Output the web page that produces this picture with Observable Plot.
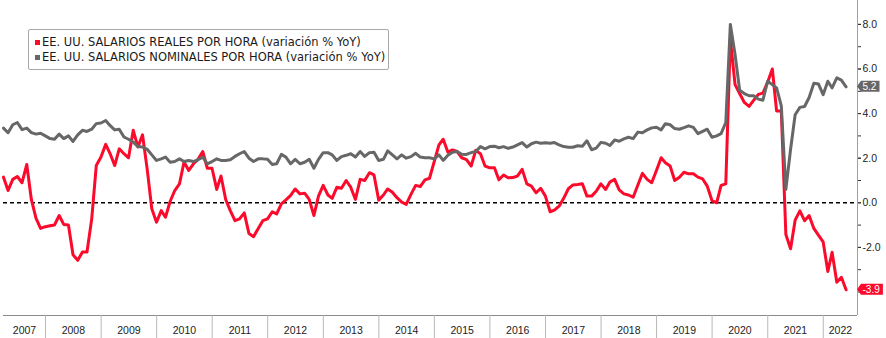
<!DOCTYPE html>
<html>
<head>
<meta charset="utf-8">
<script src="https://cdn.jsdelivr.net/npm/d3@7"></script>
<script src="https://cdn.jsdelivr.net/npm/@observablehq/plot@0.6"></script>
<style>
  body { margin: 0; background: #fff; }
  #chart { position: relative; width: 886px; height: 338px; }
  #legend { position: absolute; left: 28px; top: 29px; width: 361px; height: 41px; box-sizing: border-box;
            border: 1px solid #a9a9a9; border-radius: 2px; background: #fff;
            font-family: "DejaVu Sans", sans-serif; font-size: 11.5px; color: #1a1a1a; }
  .row { position: absolute; left: 0; height: 14px; line-height: 14px; white-space: nowrap; }
  .sw { position: absolute; left: 6px; top: 5px; width: 5px; height: 5px; }
  .lab { position: absolute; left: 13px; top: 0; }
</style>
</head>
<body>
<div id="chart">
  <div id="legend"></div>
</div>
<script>
// ---- data -------------------------------------------------------------
const startYear = 2007, startMonth = 3;   // first observation: March 2007 (monthly, month-end)

const seriesNames = [
  "EE. UU. SALARIOS REALES POR HORA (variación % YoY)",
  "EE. UU. SALARIOS NOMINALES POR HORA (variación % YoY)"
];
const seriesColors = ["#fb0a2b", "#676767"];

// Real hourly earnings, YoY %
const realWages = [
  1.15, 0.55, 1.05, 1.18, 0.9, 1.72, 0.15, -0.7, -1.15, -1.07,                 // 2007 Mar-Dec
  -1.03, -1.0, -0.57, -0.97, -1.0, -2.33, -2.58, -2.21, -2.21, -0.72, 1.67, 2.05, // 2008
  2.62, 2.22, 1.67, 2.42, 2.2, 2.02, 3.25, 2.5, 3.05, 1.5, -0.27, -0.87,        // 2009
  -0.35, -0.65, 0.07, 0.55, 0.85, 1.83, 1.45, 1.75, 1.95, 2.3, 1.55, 1.55,      // 2010
  0.6, 1.2, 0.15, -0.35, -0.8, -0.72, -0.45, -1.38, -1.52, -1.15, -0.8, -0.72,  // 2011
  -0.4, -0.5, -0.05, 0.13, 0.33, 0.62, 0.4, 0.43, 0.15, -0.57, 0.3, 0.78,       // 2012
  0.35, 0.2, 0.7, 0.65, 1.0, 0.7, 0.15, 1.05, 1.0, 1.35, 1.25, 0.12,            // 2013
  0.35, 0.62, 0.47, 0.23, 0.03, -0.07, 0.38, 0.78, 0.73, 1.03, 1.1, 1.85,       // 2014
  2.6, 2.85, 2.27, 2.37, 2.3, 2.02, 1.94, 1.65, 2.35, 2.2, 1.65, 1.57,          // 2015
  1.57, 1.03, 1.25, 1.12, 1.13, 1.2, 1.5, 0.85, 0.75, 0.45, 0.65, 0.3,          // 2016
  -0.4, -0.33, -0.15, 0.2, 0.63, 0.8, 0.82, 0.85, 0.3, 0.3, 0.52, 0.85,         // 2017
  0.6, 0.93, 1.05, 0.58, 0.4, 0.35, 0.25, 0.8, 1.32, 1.05, 0.9, 1.45,           // 2018
  2.02, 1.8, 1.65, 1.0, 1.15, 1.37, 1.3, 1.3, 1.15, 1.07, 0.75, 0.1,            // 2019
  0.0, 0.78, 0.85, 7.35, 5.3, 4.9, 4.5, 4.32, 4.59, 4.86, 4.92, 5.41,           // 2020
  6.0, 4.12, 4.12, -1.42, -2.06, -0.78, -0.36, -0.8, -0.57, -1.15, -1.45, -1.75, // 2021
  -3.08, -2.22, -3.56, -3.34, -3.9                                              // 2022 Jan-May
];

// Nominal hourly earnings, YoY %
const nominalWages = [
  3.35, 3.14, 3.5, 3.6, 3.28, 3.35, 3.15, 3.08, 3.12, 3.0,                      // 2007 Mar-Dec
  2.88, 2.85, 3.08, 2.88, 3.0, 2.75, 3.05, 3.25, 3.2, 3.3, 3.55, 3.58,          // 2008
  3.69, 3.47, 3.27, 3.3, 2.95, 2.85, 2.72, 2.52, 2.5, 2.4, 2.15, 1.9,           // 2009
  1.97, 2.05, 1.82, 1.85, 1.97, 1.85, 1.9, 1.85, 1.93, 2.05, 1.75, 1.85,        // 2010
  1.97, 1.9, 1.9, 1.93, 2.08, 2.2, 2.3, 2.0, 1.85, 1.97, 1.97, 1.95,            // 2011
  1.72, 1.75, 2.17, 2.05, 1.75, 1.95, 1.75, 1.82, 1.95, 1.55, 1.95, 2.25,       // 2012
  2.25, 2.15, 1.9, 2.07, 2.13, 2.2, 2.05, 2.3, 2.08, 2.25, 2.27, 1.9,           // 2013
  1.95, 2.33, 2.15, 1.97, 2.15, 2.0, 2.07, 2.22, 2.05, 2.02, 2.02, 1.97,        // 2014
  2.15, 1.9, 2.13, 2.27, 2.3, 2.18, 2.17, 2.25, 2.3, 2.52, 2.42, 2.52,          // 2015
  2.54, 2.47, 2.52, 2.44, 2.5, 2.6, 2.7, 2.5, 2.65, 2.72, 2.67, 2.69,           // 2016
  2.67, 2.7, 2.6, 2.52, 2.49, 2.49, 2.56, 2.54, 2.78, 2.38, 2.45, 2.71,         // 2017
  2.67, 2.57, 2.82, 2.76, 2.87, 2.94, 2.88, 3.17, 3.14, 3.27, 3.36, 3.39,       // 2018
  3.27, 3.55, 3.5, 3.33, 3.3, 3.37, 3.45, 3.38, 3.1, 3.2, 3.3, 2.94,            // 2019
  3.0, 3.1, 3.6, 8.0, 6.65, 5.05, 4.9, 4.8, 4.8, 4.65, 4.6, 5.45,               // 2020
  5.3, 5.15, 4.35, 0.6, 2.4, 3.95, 4.28, 4.32, 4.72, 5.36, 5.33, 4.85,          // 2021
  5.45, 5.15, 5.6, 5.5, 5.2                                                     // 2022 Jan-May
];

const years = d3.range(2007, 2023);                 // x-axis year labels
const yTickValues = d3.range(-4, 9);                // minor ticks every unit
const yLabelValues = [-2, 0, 2, 4, 6, 8];           // labelled ticks

// ---- build --------------------------------------------------------------
const monthEnd = (i) => new Date(Date.UTC(startYear, startMonth - 1 + i + 1, 0));
const real = realWages.map((v, i) => ({date: monthEnd(i), value: v}));
const nominal = nominalWages.map((v, i) => ({date: monthEnd(i), value: v}));

const xDomain = [new Date(Date.UTC(2007, 2, 31)), new Date(Date.UTC(2022, 7, 14))];
const yDomain = [-5.054, 9.072];

const yearStarts = years.slice(1).map(y => new Date(Date.UTC(y, 0, 1)));
const yearMid = (y) => {
  const a = Math.max(+new Date(Date.UTC(y, 0, 1)), +xDomain[0]);
  const b = Math.min(+new Date(Date.UTC(y + 1, 0, 1)), +xDomain[1]);
  return new Date((a + b) / 2);
};

const endTags = [
  {value: nominalWages[nominalWages.length - 1], color: seriesColors[1]},
  {value: realWages[realWages.length - 1], color: seriesColors[0]}
];

function tagMark(index, scales, values, dim) {
  const g = d3.create("svg:g").attr("text-anchor", "start");
  const x0 = dim.width - dim.marginRight;
  for (const t of endTags) {
    const label = t.value.toFixed(1);
    const y = scales.y(t.value);
    const textW = label.replace(/[^0-9]/g, "").length * 5.6 + (label.includes(".") ? 2.8 : 0) + (label.startsWith("-") ? 3.4 : 0);
    const h = 11, p = 4, w = p + textW + 4.5;
    g.append("path")
      .attr("d", `M${x0},${y}L${x0 + p},${y - h / 2}H${x0 + w}V${y + h / 2}H${x0 + p}Z`)
      .attr("fill", t.color).attr("stroke", "none");
    g.append("text")
      .attr("x", x0 + p + 1.5).attr("y", y).attr("dy", "0.36em")
      .attr("text-anchor", "start")
      .attr("fill", "#ffffff").attr("stroke", "none")
      .attr("font-family", "'Liberation Sans', Arial, sans-serif")
      .attr("font-size", 10)
      .text(label);
  }
  return g.node();
}

const chart = Plot.plot({
  width: 886, height: 338,
  marginLeft: 3, marginRight: 29, marginTop: 0, marginBottom: 23,
  style: {fontFamily: "'Liberation Sans', Arial, sans-serif", fontSize: "10.5px", color: "#222", background: "white", overflow: "visible"},
  x: {type: "utc", domain: xDomain},
  y: {domain: yDomain},
  marks: [
    Plot.ruleY([0], {stroke: "#000", strokeWidth: 1.4, strokeDasharray: "4,3"}),
    Plot.line(real, {x: "date", y: "value", stroke: seriesColors[0], strokeWidth: 3}),
    Plot.line(nominal, {x: "date", y: "value", stroke: seriesColors[1], strokeWidth: 3}),
    Plot.ruleY([yDomain[0]], {stroke: "#8a8a8a", strokeWidth: 1}),
    Plot.ruleX([xDomain[1]], {stroke: "#a0a0a0", strokeWidth: 1}),
    Plot.axisX({ticks: yearStarts, tickSize: 23, tickFormat: () => "", label: null, stroke: "#b8b8b8"}),
    Plot.text(years, {x: yearMid, text: d => String(d), frameAnchor: "bottom", dy: 18, fill: "#222"}),
    Plot.axisY({anchor: "right", ticks: yTickValues, tickSize: 3, label: null, tickFormat: () => "", stroke: "#333"}),
    Plot.axisY({anchor: "right", ticks: yLabelValues, tickSize: 3, tickPadding: 2, label: null,
                tickFormat: d => d.toFixed(1), stroke: "#333", fill: "#222"}),
    tagMark
  ]
});
document.getElementById("chart").prepend(chart);

const legend = document.getElementById("legend");
seriesNames.forEach((name, i) => {
  const row = document.createElement("div");
  row.className = "row";
  row.style.top = (5.4 + i * 14.2) + "px";
  row.innerHTML = `<span class="sw" style="background:${seriesColors[i]}"></span><span class="lab"></span>`;
  row.querySelector(".lab").textContent = name;
  legend.appendChild(row);
});
</script>
</body>
</html>
